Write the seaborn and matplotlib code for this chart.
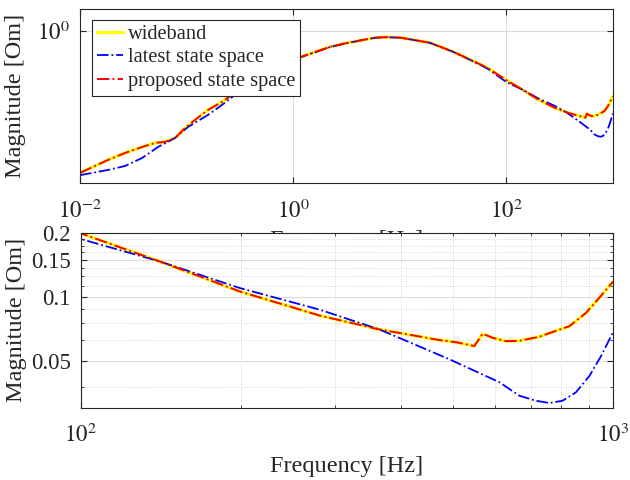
import matplotlib
matplotlib.use("Agg")
import matplotlib.pyplot as plt
import seaborn as sns
from matplotlib.ticker import FixedLocator, FixedFormatter, NullLocator, NullFormatter

# values (frequency in Hz, magnitude in Om)
freq_wb = [0.01, 0.0138, 0.0183, 0.0265, 0.0383, 0.0506, 0.063, 0.0781, 0.0969,
           0.12, 0.159, 0.215, 0.267, 0.49, 1.114, 2.22, 3.08, 4.54, 5.9, 7.64, 10.1,
           13.4, 19.3, 31.8, 45.9, 66.4, 100, 141, 199, 281, 364, 433, 472, 507, 549,
           569, 594, 630, 667, 727, 787, 828, 890, 942, 1000]
mag_wb = [0.0097, 0.01216, 0.0148, 0.0186, 0.0226, 0.0258, 0.0267, 0.0304, 0.0421,
          0.0547, 0.0757, 0.0984, 0.1236, 0.22, 0.414, 0.593, 0.665, 0.745, 0.80, 0.814,
          0.80, 0.745, 0.676, 0.504, 0.39, 0.299, 0.200, 0.147, 0.1062, 0.0817, 0.0702,
          0.0650, 0.0625, 0.0611, 0.0586, 0.0670, 0.0641, 0.0618, 0.0620, 0.0648, 0.0696,
          0.0727, 0.0841, 0.0989, 0.118]

# proposed state space sits on top of the wideband curve
freq_prop = freq_wb
mag_prop = mag_wb

freq_ls = [0.01, 0.0183, 0.0265, 0.0383, 0.054, 0.0781, 0.1033, 0.159, 0.215, 0.285,
           0.49, 1.114, 2.22, 3.08, 4.54, 5.9, 7.64, 10.1, 13.4, 19.3, 31.8, 45.9, 66.4,
           100, 141, 199, 281, 364, 433, 493, 612, 667, 717, 760, 804, 852, 903, 950, 1000]
mag_ls = [0.0090, 0.01067, 0.01216, 0.0158, 0.0226, 0.0304, 0.0435, 0.0644, 0.0892, 0.1236,
          0.205, 0.410, 0.590, 0.662, 0.743, 0.798, 0.812, 0.798, 0.743, 0.674, 0.502, 0.386,
          0.292, 0.188, 0.147, 0.1102, 0.0871, 0.0702, 0.0583, 0.0507, 0.0395, 0.0341,
          0.0323, 0.0315, 0.0323, 0.0354, 0.0423, 0.0526, 0.068]

sns.set_style("ticks")
plt.rcParams['font.family'] = ['Liberation Serif', 'DejaVu Serif']
plt.rcParams['mathtext.fontset'] = 'stix'

TICK_FS = 16.5
LABEL_FS = 17.5
EDGE = '#262626'

fig = plt.figure(figsize=(6.3, 4.8), dpi=100)
ax1 = fig.add_axes([0.127, 0.619, 0.846, 0.362])
ax2 = fig.add_axes([0.128, 0.151, 0.845, 0.363])


def draw_curves(ax):
    ax.set_xscale('log')
    ax.set_yscale('log')
    sns.lineplot(x=freq_wb, y=mag_wb, ax=ax, color='#ffff00', linewidth=2.3,
                 label='wideband', sort=False)
    sns.lineplot(x=freq_ls, y=mag_ls, ax=ax, color='#0000ff', linewidth=1.3,
                 linestyle='-.', label='latest state space', sort=False)
    sns.lineplot(x=freq_prop, y=mag_prop, ax=ax, color='#ff0000', linewidth=1.4,
                 linestyle='-.', label='proposed state space', sort=False)
    for s in ax.spines.values():
        s.set_color(EDGE)
        s.set_linewidth(0.8)
    ax.tick_params(which='both', direction='in', top=True, right=True,
                   labelsize=TICK_FS, colors=EDGE, labelcolor='#262626')
    ax.tick_params(which='major', length=4, width=0.8)
    ax.tick_params(which='minor', length=2.5, width=0.6)
    ax.tick_params(axis='y', pad=7)
    ax.tick_params(axis='x', pad=12)
    ax.set_ylabel('Magnitude [Om]', fontsize=LABEL_FS)
    ax.yaxis.set_label_coords(-0.101, 0.5)
    ax.set_xlabel('Frequency [Hz]', fontsize=LABEL_FS, labelpad=6)


# upper panel: whole band (its x label is mostly hidden by the lower panel)
draw_curves(ax1)
ax1.xaxis.labelpad = 5
ax1.set_xlim(0.01, 1000)
ax1.set_ylim(0.007, 2.03)
ax1.xaxis.set_major_locator(FixedLocator([1e-2, 1, 1e2]))
ax1.xaxis.set_major_formatter(FixedFormatter([r'$10^{-2}$', r'$10^{0}$', r'$10^{2}$']))
ax1.xaxis.set_minor_locator(NullLocator())
ax1.yaxis.set_major_locator(FixedLocator([1]))
ax1.yaxis.set_major_formatter(FixedFormatter([r'$10^{0}$']))
ax1.yaxis.set_minor_locator(NullLocator())
ax1.grid(True, which='major', color='#dcdcdc', linewidth=0.8)
leg = ax1.legend(loc='upper left', bbox_to_anchor=(0.0225, 0.94), borderaxespad=0,
                 fontsize=14.7, fancybox=False, framealpha=1, edgecolor=EDGE,
                 handlelength=1.25, handletextpad=0.25, labelspacing=0.2,
                 borderpad=0.25)
leg.get_frame().set_linewidth(0.8)

# lower panel: zoom on 100 Hz - 1 kHz
draw_curves(ax2)
ax2.get_legend().remove()
ax2.set_xlim(100, 1000)
ax2.set_ylim(0.03, 0.2)
ax2.xaxis.set_major_locator(FixedLocator([100, 1000]))
ax2.xaxis.set_major_formatter(FixedFormatter([r'$10^{2}$', r'$10^{3}$']))
ax2.xaxis.set_minor_locator(FixedLocator([200, 300, 400, 500, 600, 700, 800, 900]))
ax2.xaxis.set_minor_formatter(NullFormatter())
ax2.yaxis.set_major_locator(FixedLocator([0.05, 0.1, 0.15, 0.2]))
ax2.yaxis.set_major_formatter(FixedFormatter(['0.05', '0.1', '0.15', '0.2']))
ax2.yaxis.set_minor_locator(FixedLocator([0.0375, 0.0625, 0.075, 0.0875, 0.1125,
                                          0.125, 0.1375, 0.1625, 0.175, 0.1875]))
ax2.yaxis.set_minor_formatter(NullFormatter())
ax2.grid(True, which='major', color='#dcdcdc', linewidth=0.8)
ax2.grid(True, which='minor', color='#d0d0d0', linewidth=0.7, linestyle=':')

fig.savefig('out.png', dpi=100, facecolor='white')
